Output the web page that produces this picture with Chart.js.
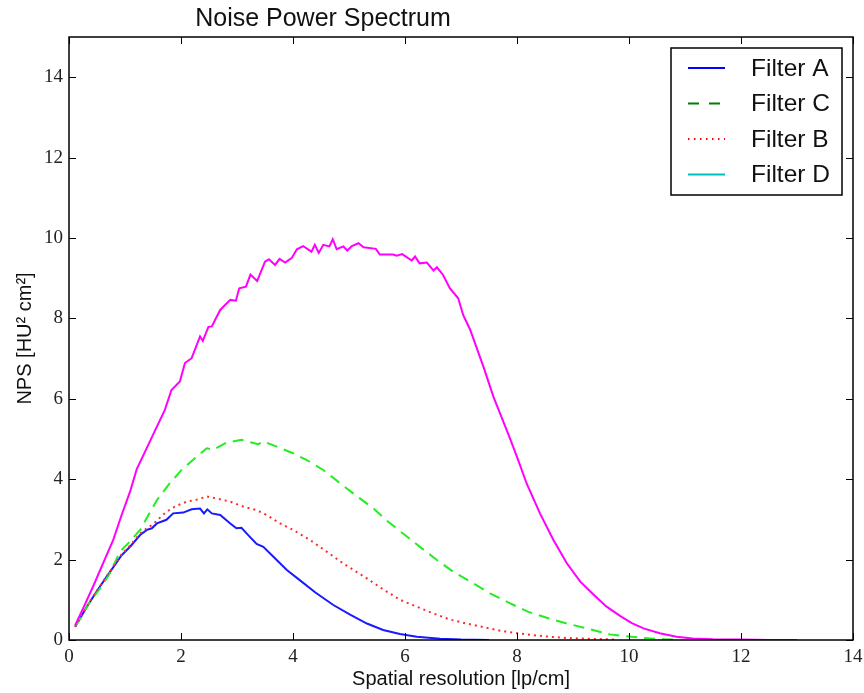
<!DOCTYPE html>
<html><head><meta charset="utf-8">
<script src="https://cdn.jsdelivr.net/npm/chart.js@4/dist/chart.umd.min.js"></script>
<style>html,body{margin:0;padding:0;background:#fff}#wrap{width:864px;height:693px}</style>
</head><body><div id="wrap"><canvas id="c" width="864" height="693"></canvas></div>
<script>
const chartTitle = 'Noise Power Spectrum';
const xAxisTitle = 'Spatial resolution [lp/cm]';
const yAxisTitle = 'NPS [HU² cm²]';
const xTicks = [0, 2, 4, 6, 8, 10, 12, 14];
const yTicks = [0, 2, 4, 6, 8, 10, 12, 14];
const legendLabels = ['Filter A', 'Filter C', 'Filter B', 'Filter D'];

// Filter A (blue, solid)
const xA = [0.11,0.32,0.49,0.67,0.82,0.94,1.09,1.27,1.39,1.48,1.57,1.74,1.86,2.04,2.19,2.34,2.41,2.47,2.55,2.70,2.88,2.99,3.08,3.20,3.35,3.47,3.65,3.89,4.12,4.40,4.72,5.02,5.32,5.61,5.91,6.21,6.63,7.0,7.5];
const yA = [0.33,0.83,1.20,1.57,1.87,2.11,2.32,2.61,2.74,2.78,2.90,2.99,3.15,3.17,3.25,3.27,3.15,3.25,3.15,3.11,2.90,2.78,2.79,2.61,2.39,2.32,2.07,1.74,1.49,1.18,0.87,0.63,0.41,0.25,0.15,0.08,0.03,0.01,0.0];

// Filter C (green, dashed)
const xC = [0.11,0.375,0.58,0.73,0.91,1.06,1.27,1.57,1.80,2.01,2.28,2.46,2.58,2.81,3.08,3.23,3.38,3.47,3.71,4.01,4.24,4.54,4.84,5.11,5.43,5.70,6.0,6.30,6.57,6.86,7.22,7.52,7.88,8.20,8.56,8.92,9.30,9.66,10.05,10.43,10.8];
const yC = [0.33,0.95,1.33,1.66,2.20,2.41,2.74,3.48,3.90,4.23,4.56,4.77,4.73,4.91,4.98,4.92,4.87,4.94,4.81,4.64,4.48,4.23,3.90,3.61,3.28,2.94,2.61,2.28,1.99,1.70,1.41,1.16,0.91,0.70,0.54,0.40,0.27,0.14,0.08,0.03,0.01];

// Filter B (red, dotted)
const xB = [0.11,0.32,0.49,0.67,0.82,0.94,1.09,1.27,1.39,1.50,1.63,1.74,1.89,2.10,2.31,2.46,2.64,2.88,3.11,3.35,3.53,3.77,4.00,4.30,4.60,4.90,5.30,5.61,5.91,6.21,6.51,6.80,7.10,7.40,7.70,7.99,8.29,8.59,8.89,9.30,9.80];
const yB = [0.33,0.84,1.21,1.58,1.89,2.13,2.35,2.65,2.78,2.88,3.05,3.19,3.32,3.44,3.50,3.57,3.52,3.44,3.32,3.23,3.11,2.90,2.74,2.49,2.20,1.90,1.55,1.26,1.00,0.83,0.66,0.51,0.41,0.32,0.23,0.17,0.12,0.08,0.05,0.03,0.01];

// Unlabelled magenta curve
const xM = [0.11,0.25,0.43,0.61,0.79,0.94,1.09,1.21,1.39,1.54,1.71,1.83,1.98,2.07,2.19,2.34,2.39,2.49,2.55,2.70,2.88,2.98,3.04,3.16,3.24,3.36,3.50,3.57,3.68,3.76,3.86,3.98,4.07,4.18,4.33,4.39,4.46,4.54,4.65,4.71,4.78,4.90,4.97,5.05,5.17,5.26,5.48,5.55,5.79,5.85,5.95,6.12,6.18,6.26,6.39,6.51,6.57,6.68,6.80,6.95,7.04,7.16,7.40,7.58,7.85,8.02,8.17,8.41,8.65,8.89,9.13,9.36,9.60,9.84,10.05,10.26,10.55,10.85,11.14,11.5,12.0,12.5,13.0];
const yM = [0.37,0.78,1.33,1.91,2.49,3.11,3.69,4.25,4.78,5.22,5.72,6.22,6.43,6.89,7.01,7.55,7.44,7.79,7.80,8.21,8.46,8.44,8.75,8.79,9.09,8.93,9.41,9.47,9.33,9.48,9.39,9.51,9.72,9.80,9.66,9.83,9.63,9.83,9.79,9.97,9.72,9.79,9.69,9.80,9.87,9.77,9.73,9.59,9.59,9.56,9.60,9.44,9.54,9.37,9.39,9.19,9.27,9.08,8.75,8.50,8.08,7.73,6.80,6.05,5.10,4.48,3.90,3.15,2.49,1.91,1.45,1.14,0.83,0.60,0.42,0.29,0.17,0.08,0.04,0.02,0.01,0.0,0.0];

// Filter D (cyan) – legend entry only, no visible curve
const xD = [];
const yD = [];

const pts = (xs, ys) => xs.map((x, i) => ({x, y: ys[i]}));

const legendStyles = [
  {color: '#0000ff', dash: []},
  {color: '#008000', dash: [11, 10]},
  {color: '#ff0000', dash: [1.5, 4.5]},
  {color: '#00bfbf', dash: []}
];

const decorPlugin = {
  id: 'decor',
  afterDatasetsDraw(chart) {
    const {ctx, chartArea: a, scales: {x, y}} = chart;
    ctx.save();
    ctx.strokeStyle = '#000';
    ctx.lineWidth = 1;
    ctx.beginPath();
    xTicks.forEach(v => {
      const px = Math.round(x.getPixelForValue(v)) + 0.5;
      ctx.moveTo(px, a.bottom); ctx.lineTo(px, a.bottom - 7);
      ctx.moveTo(px, a.top); ctx.lineTo(px, a.top + 7);
    });
    yTicks.forEach(v => {
      const py = Math.round(y.getPixelForValue(v)) + 0.5;
      ctx.moveTo(a.left, py); ctx.lineTo(a.left + 7, py);
      ctx.moveTo(a.right, py); ctx.lineTo(a.right - 7, py);
    });
    ctx.stroke();
    ctx.lineWidth = 1.5;
    ctx.strokeRect(a.left, a.top, a.right - a.left, a.bottom - a.top);

    // legend
    const bw = 171, bh = 147;
    const bx = a.right - 11 - bw, by = a.top + 11;
    ctx.fillStyle = '#fff';
    ctx.fillRect(bx, by, bw, bh);
    ctx.lineWidth = 1.5;
    ctx.strokeStyle = '#000';
    ctx.strokeRect(bx, by, bw, bh);
    ctx.font = '24.5px "Liberation Sans", Arial, sans-serif';
    ctx.textBaseline = 'middle';
    ctx.textAlign = 'left';
    legendLabels.forEach((lab, i) => {
      const cy = by + 20 + i * 35.5;
      const st = legendStyles[i];
      ctx.strokeStyle = st.color;
      ctx.lineWidth = 2;
      ctx.setLineDash(st.dash);
      ctx.beginPath();
      ctx.moveTo(bx + 17, cy); ctx.lineTo(bx + 54, cy);
      ctx.stroke();
      ctx.setLineDash([]);
      ctx.fillStyle = '#111';
      ctx.fillText(lab, bx + 80, cy + 1);
    });

    // title
    ctx.fillStyle = '#111';
    ctx.font = '25px "Liberation Sans", Arial, sans-serif';
    ctx.textAlign = 'center';
    ctx.textBaseline = 'middle';
    ctx.fillText(chartTitle, 323, 19);
    ctx.restore();
  }
};

new Chart(document.getElementById('c'), {
  type: 'line',
  data: {
    datasets: [
      {label: legendLabels[3], data: pts(xD, yD), borderColor: '#00bfbf', borderWidth: 2, order: 5},
      {label: 'magenta', data: pts(xM, yM), borderColor: '#ff00ff', borderWidth: 2, order: 1},
      {label: legendLabels[0], data: pts(xA, yA), borderColor: '#1a1aff', borderWidth: 2, order: 4},
      {label: legendLabels[1], data: pts(xC, yC), borderColor: '#22ee22', borderWidth: 2, borderDash: [11, 7], order: 3},
      {label: legendLabels[2], data: pts(xB, yB), borderColor: '#ff2a2a', borderWidth: 2, borderDash: [2, 4], order: 2}
    ]
  },
  options: {
    responsive: false,
    animation: false,
    devicePixelRatio: 1,
    elements: {point: {radius: 0}, line: {tension: 0, fill: false}},
    layout: {padding: {top: 37, right: 11, left: 0, bottom: 0}},
    plugins: {legend: {display: false}, title: {display: false}, tooltip: {enabled: false}},
    scales: {
      x: {
        type: 'linear', min: 0, max: 14,
        afterBuildTicks: s => { s.ticks = xTicks.map(v => ({value: v})); },
        afterFit: s => { s.height = 53; s.paddingLeft = 0; s.paddingRight = 0; },
        grid: {display: false, drawTicks: false},
        border: {display: false},
        ticks: {padding: 6, color: '#222', font: {family: '"Liberation Serif", "DejaVu Serif", serif', size: 19}, maxRotation: 0},
        title: {display: true, text: xAxisTitle, color: '#111', padding: {top: 0, bottom: 2}, font: {family: '"Liberation Sans", Arial, sans-serif', size: 20}}
      },
      y: {
        type: 'linear', min: 0, max: 15,
        afterBuildTicks: s => { s.ticks = yTicks.map(v => ({value: v})); },
        afterFit: s => { s.width = 69; s.paddingTop = 0; s.paddingBottom = 0; },
        grid: {display: false, drawTicks: false},
        border: {display: false},
        ticks: {padding: 6, color: '#222', font: {family: '"Liberation Serif", "DejaVu Serif", serif', size: 19}},
        title: {display: true, text: yAxisTitle, color: '#111', padding: {top: 13, bottom: 0}, font: {family: '"Liberation Sans", Arial, sans-serif', size: 20}}
      }
    }
  },
  plugins: [decorPlugin]
});
</script>
</body></html>
